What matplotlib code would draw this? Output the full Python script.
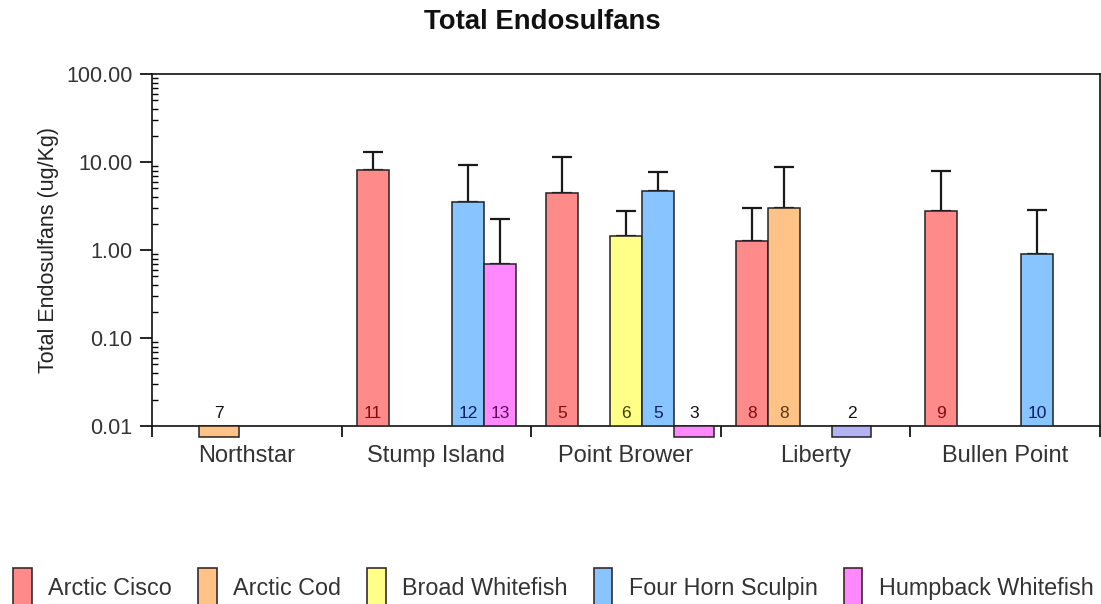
import numpy as np
import matplotlib
matplotlib.use('Agg')
import matplotlib.pyplot as plt
from matplotlib.patches import Patch
from matplotlib.ticker import FixedLocator, NullFormatter, LogLocator

plt.rcParams['font.family'] = ['Liberation Sans', 'DejaVu Sans']

nan = np.nan

sites = ['Northstar', 'Stump Island', 'Point Brower', 'Liberty', 'Bullen Point']
species = ['Arctic Cisco', 'Arctic Cod', 'Broad Whitefish',
           'Four Horn Sculpin', 'Humpback Whitefish']

# mean concentration per site (ug/Kg); values under 0.01 are below the reporting limit
arctic_cisco = [nan, 8.1, 4.5, 1.26, 2.75]
arctic_cod = [0.0075, nan, nan, 3.0, nan]
broad_whitefish = [nan, nan, 1.44, nan, nan]
four_horn_sculpin = [nan, 3.5, 4.68, 0.0075, 0.89]
humpback_whitefish = [nan, 0.69, 0.0075, nan, nan]

# upper end of the error bar
arctic_cisco_hi = [nan, 13.1, 11.3, 3.0, 7.96]
arctic_cod_hi = [nan, nan, nan, 8.85, nan]
broad_whitefish_hi = [nan, nan, 2.75, nan, nan]
four_horn_sculpin_hi = [nan, 9.3, 7.64, nan, 2.85]
humpback_whitefish_hi = [nan, 2.23, nan, nan, nan]

# sample counts
arctic_cisco_n = [nan, 11, 5, 8, 9]
arctic_cod_n = [7, nan, nan, 8, nan]
broad_whitefish_n = [nan, nan, 6, nan, nan]
four_horn_sculpin_n = [nan, 12, 5, 2, 10]
humpback_whitefish_n = [nan, 13, 3, nan, nan]

values = [arctic_cisco, arctic_cod, broad_whitefish, four_horn_sculpin, humpback_whitefish]
highs = [arctic_cisco_hi, arctic_cod_hi, broad_whitefish_hi, four_horn_sculpin_hi,
         humpback_whitefish_hi]
counts = [arctic_cisco_n, arctic_cod_n, broad_whitefish_n, four_horn_sculpin_n,
          humpback_whitefish_n]

fills = ['#ff8a8a', '#ffc287', '#ffff88', '#88c4ff', '#ff88ff']
text_cols = ['#7a1010', '#5a3a10', '#3a3a00', '#0a2060', '#5a105a']
# Liberty sculpin bar is shaded differently
special_fill = {(3, 3): '#b3b3f2'}

BASE = 0.01
pad = 15 / 190
slot = 32 / 190
low_w = 40 / 190

fig = plt.figure(figsize=(11.01, 6.04), dpi=100)
ax = fig.add_axes([152 / 1101, 1 - 426 / 604, 948 / 1101, 352 / 604])

for k, (vals, hi, ns) in enumerate(zip(values, highs, counts)):
    for i in range(len(sites)):
        v = vals[i]
        if np.isnan(v):
            continue
        x0 = i + pad + k * slot
        col = special_fill.get((k, i), fills[k])
        if v < BASE:
            ax.bar(x0, v - BASE, bottom=BASE, width=low_w, align='edge',
                   color=col, edgecolor='#222222', linewidth=1.1, clip_on=False, zorder=3)
            ax.text(x0 + low_w / 2, 0.0137, '%d' % ns[i], ha='center', va='center',
                    fontsize=12.5, color='#111111', zorder=4)
        else:
            ax.bar(x0, v - BASE, bottom=BASE, width=slot, align='edge',
                   color=col, edgecolor='#222222', linewidth=1.1, zorder=3)
            if not np.isnan(hi[i]):
                ax.errorbar(x0 + slot / 2, v, yerr=[[0], [hi[i] - v]], fmt='none',
                            ecolor='#1a1a1a', elinewidth=1.6, capsize=7.5, capthick=1.6,
                            zorder=2)
            ax.text(x0 + slot / 2, 0.0137, '%d' % ns[i], ha='center', va='center',
                    fontsize=12.5, color=text_cols[k], zorder=4)

ax.set_yscale('log')
ax.set_ylim(0.01, 100)
ax.set_xlim(0, len(sites))
ax.set_yticks([0.01, 0.1, 1, 10, 100])
ax.set_yticklabels(['0.01', '0.10', '1.00', '10.00', '100.00'])
ax.yaxis.set_minor_locator(LogLocator(base=10, subs=np.arange(2, 10)))
ax.yaxis.set_minor_formatter(NullFormatter())
ax.tick_params(axis='y', which='major', direction='out', length=9, width=1.2,
               labelsize=15.5, labelcolor='#333333', pad=5)
ax.tick_params(axis='y', which='minor', direction='in', length=4.5, width=1.0)

# group boundaries as ticks, site names centred between them
ax.xaxis.set_major_locator(FixedLocator(np.arange(len(sites) + 1)))
ax.xaxis.set_major_formatter(NullFormatter())
ax.xaxis.set_minor_locator(FixedLocator(np.arange(len(sites)) + 0.5))
ax.set_xticklabels(sites, minor=True)
ax.tick_params(axis='x', which='major', direction='out', length=8, width=1.2)
ax.tick_params(axis='x', which='minor', length=0, labelsize=17, labelcolor='#333333',
               pad=13.5)

for s in ax.spines.values():
    s.set_linewidth(1.2)
    s.set_color('#111111')

ax.set_ylabel('Total Endosulfans (ug/Kg)', fontsize=15.5, color='#222222', labelpad=5)
fig.text(542 / 1101, 1 - 22 / 604, 'Total Endosulfans', ha='center', va='center',
         fontsize=19.8, fontweight='bold', color='#111111')

handles = [Patch(facecolor=c, edgecolor='#3a2a2a', linewidth=1.2) for c in fills]
fig.legend(handles, species, ncol=5, loc='center left',
           bbox_to_anchor=(13 / 1101, 1 - 588 / 604), frameon=False,
           fontsize=16.8, handlelength=0.8, handleheight=2.28, handletextpad=0.7,
           columnspacing=1.12, borderpad=0, borderaxespad=0, labelcolor='#333333')

fig.savefig('out.png', dpi=100)
